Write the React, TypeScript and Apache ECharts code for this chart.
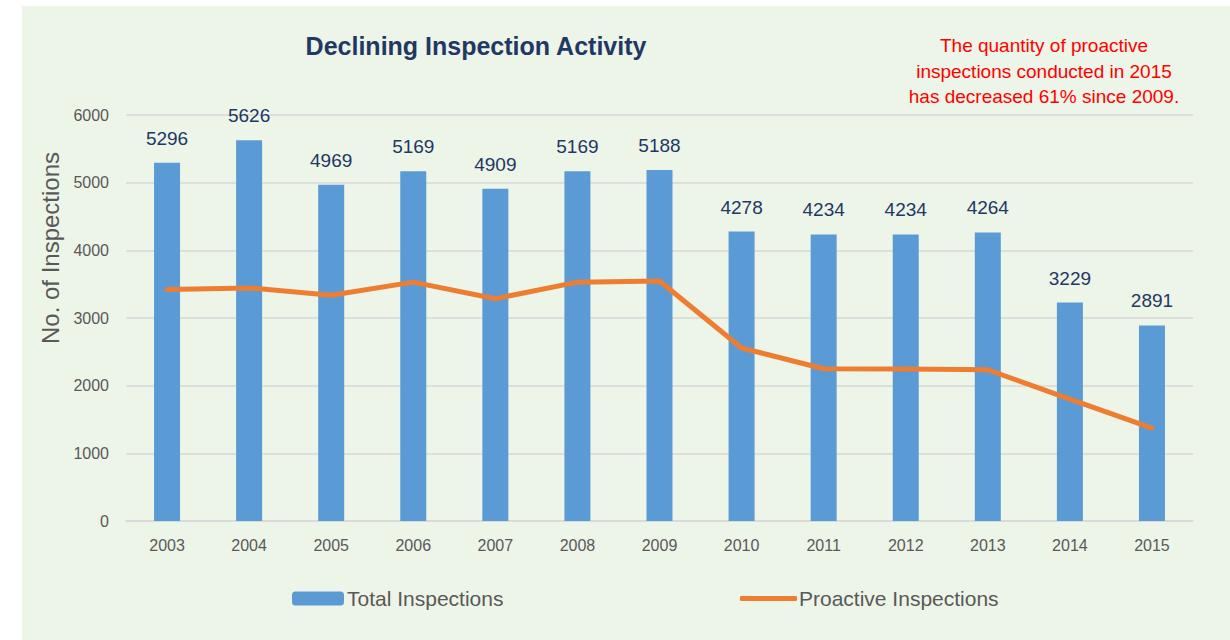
import React, { useEffect, useRef } from "react";
import * as echarts from "echarts";

const years = ["2003", "2004", "2005", "2006", "2007", "2008", "2009", "2010", "2011", "2012", "2013", "2014", "2015"];
const totalInspections = [5296, 5626, 4969, 5169, 4909, 5169, 5188, 4278, 4234, 4234, 4264, 3229, 2891];
const proactiveInspections = [3420, 3445, 3335, 3530, 3285, 3530, 3547, 2557, 2250, 2248, 2235, 1800, 1374];
const yTicks = [0, 1000, 2000, 3000, 4000, 5000, 6000];

const FONT = "'Liberation Sans', 'Noto Sans', sans-serif";

export default function App() {
  const ref = useRef<HTMLDivElement>(null);
  useEffect(() => {
    if (!ref.current) return;
    const chart = echarts.init(ref.current, undefined, { renderer: "svg" });
    chart.setOption({
      animation: false,
      backgroundColor: "#ffffff",
      graphic: [
        { type: "rect", z: -10, silent: true, shape: { x: 22, y: 6, width: 1208, height: 634 }, style: { fill: "#EDF4E8" } },
        {
          type: "text", x: 476, y: 46,
          style: { text: "Declining Inspection Activity", font: `bold 25px ${FONT}`, fill: "#1F3864", align: "center", verticalAlign: "middle" },
        },
        {
          type: "text", x: 1044, y: 33,
          style: {
            text: "The quantity of proactive\ninspections conducted in 2015\nhas decreased 61% since 2009.",
            font: `19px ${FONT}`, fill: "#FF0000", align: "center", verticalAlign: "top", lineHeight: 25.5,
          },
        },
        {
          type: "text", x: 50, y: 248, rotation: Math.PI / 2,
          style: { text: "No. of Inspections", font: `24px ${FONT}`, fill: "#595959", align: "center", verticalAlign: "middle" },
        },
      ],
      legend: [
        {
          data: ["Total Inspections"], left: 292, top: 588, padding: 0, itemWidth: 52, itemHeight: 14, itemGap: 4,
          textStyle: { fontFamily: FONT, fontSize: 21, color: "#595959", padding: [0, 0, 0, -2] },
        },
        {
          data: [{ name: "Proactive Inspections", icon: "roundRect" }], left: 740, top: 588, padding: 0, itemWidth: 57, itemHeight: 5,
          textStyle: { fontFamily: FONT, fontSize: 21, color: "#595959", padding: [0, 0, 0, -3] },
        },
      ],
      grid: { left: 126, right: 37, top: 115, bottom: 119 },
      xAxis: {
        type: "category", data: years,
        axisLine: { lineStyle: { color: "#D9D9D9", width: 1.5 } },
        axisTick: { show: false },
        axisLabel: { fontFamily: FONT, fontSize: 16, color: "#595959", margin: 16 },
      },
      yAxis: {
        type: "value", min: yTicks[0], max: yTicks[yTicks.length - 1], interval: 1000,
        axisLabel: { fontFamily: FONT, fontSize: 16, color: "#595959", margin: 17, formatter: (v: number) => String(v) },
        splitLine: { lineStyle: { color: "#D9D9D9", width: 1.5 } },
        axisLine: { show: false }, axisTick: { show: false },
      },
      series: [
        {
          name: "Total Inspections", type: "bar", data: totalInspections, barWidth: 26,
          itemStyle: { color: "#5B9BD5" },
          label: { show: true, position: "top", distance: 15, fontFamily: FONT, fontSize: 19, color: "#1F3864" },
        },
        {
          name: "Proactive Inspections", type: "line", data: proactiveInspections,
          symbol: "none", lineStyle: { color: "#ED7D31", width: 5, cap: "round", join: "round" },
          itemStyle: { color: "#ED7D31" },
        },
      ],
    });
    return () => chart.dispose();
  }, []);
  return (
    <div style={{ position: "fixed", left: 0, top: 0, width: 1230, height: 640, background: "#fff" }}>
      <div ref={ref} style={{ width: 1230, height: 640 }} />
    </div>
  );
}
